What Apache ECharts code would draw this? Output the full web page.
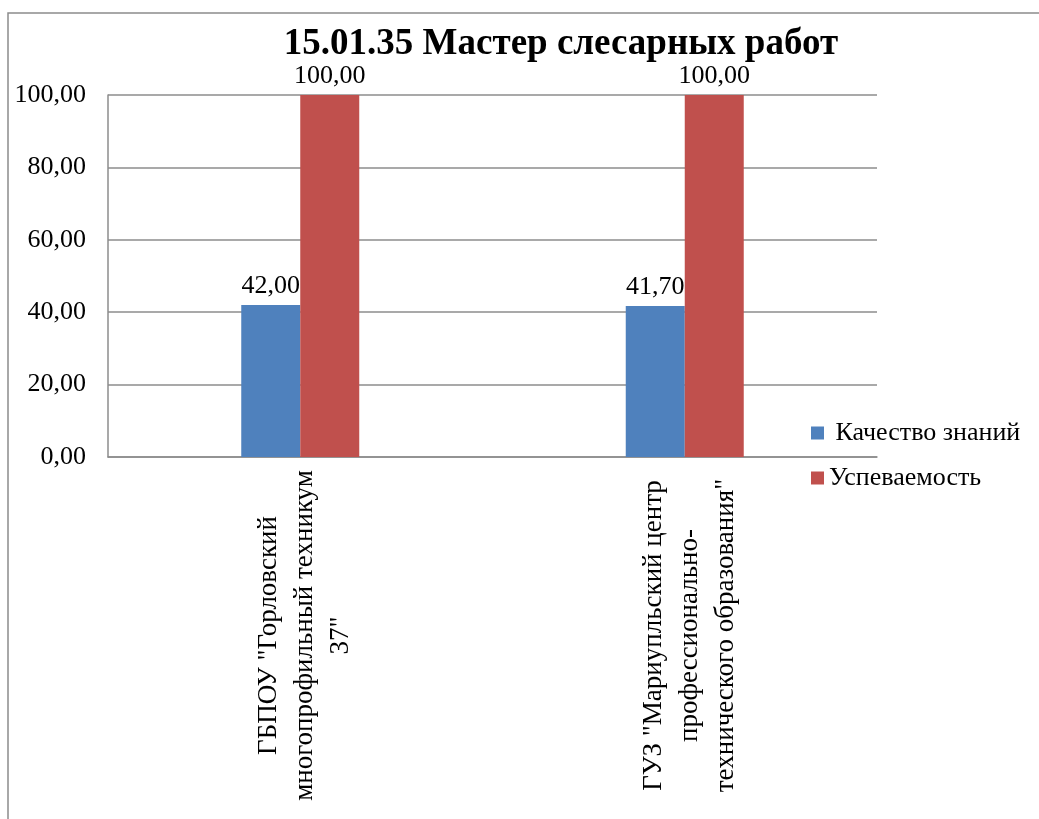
<!DOCTYPE html>
<html>
<head>
<meta charset="utf-8">
<script src="https://cdn.jsdelivr.net/npm/echarts@6/dist/echarts.min.js"></script>
<style>
  html, body { margin: 0; padding: 0; background: #fff; }
  #chart { width: 1039px; height: 819px; }
</style>
</head>
<body>
<div id="chart"></div>
<script>
  let titleText = '15.01.35 Мастер слесарных работ'
  let categories = [
    ['ГБПОУ "Горловский', 'многопрофильный техникум', '37"'],
    ['ГУЗ "Мариупльский центр', 'профессионально-', 'технического образования"']
  ]
  let seriesNames = ['Качество знаний', 'Успеваемость']
  let quality = [42.00, 41.70]
  let progress = [100.00, 100.00]
  let myColor = ['#4F81BD', '#C0504D']

  let fmt = function (v) {
    return Number(v).toFixed(2).replace('.', ',')
  }
  let serif = '"Liberation Serif", "Times New Roman", serif'

  let chart = echarts.init(document.getElementById('chart'))
  chart.setOption({
    backgroundColor: '#fff',
    textStyle: { fontFamily: serif },
    animation: false,
    graphic: [{
      type: 'polyline',
      shape: { points: [[8, 830], [8, 13], [1045, 13]] },
      style: { stroke: '#8c8c8c', lineWidth: 1.5, fill: null }
    }],
    title: {
      text: titleText,
      left: 556,
      textAlign: 'center',
      top: 21,
      textStyle: { fontFamily: serif, fontSize: 37, fontWeight: 'bold', color: '#000' }
    },
    legend: {
      orient: 'vertical',
      left: 806,
      top: 415,
      itemGap: 19,
      itemWidth: 13,
      itemHeight: 13,
      icon: 'rect',
      data: seriesNames,
      formatter: function (name) {
        return name === seriesNames[0] ? ' ' + name : name
      },
      textStyle: { fontFamily: serif, fontSize: 26, color: '#000' }
    },
    grid: { left: 108, right: 162, top: 95, bottom: 362 },
    xAxis: {
      type: 'category',
      data: categories.map(function (c) { return c.join('\n') }),
      axisLine: { lineStyle: { color: '#8c8c8c', width: 1.5 } },
      axisTick: { show: false },
      axisLabel: {
        rotate: 90,
        interval: 0,
        margin: 16,
        fontSize: 27,
        lineHeight: 36,
        color: '#000',
        padding: [10, 0, 0, 0],
        formatter: function (value) {
          return value.split('\n').map(function (s) { return '{a|' + s + '}' }).join('\n')
        },
        rich: {
          a: { width: 325, align: 'center', fontSize: 27, lineHeight: 36, fontFamily: serif, color: '#000' }
        }
      }
    },
    yAxis: {
      type: 'value',
      min: 0,
      max: 100,
      interval: 20,
      axisLine: { show: true, lineStyle: { color: '#8c8c8c', width: 1.5 } },
      axisTick: { show: false },
      splitLine: { lineStyle: { color: '#8c8c8c', width: 1.5 } },
      axisLabel: {
        margin: 22,
        fontSize: 26,
        fontFamily: serif,
        color: '#000',
        formatter: fmt
      }
    },
    series: [{
      name: seriesNames[0],
      type: 'bar',
      data: quality,
      barWidth: 59,
      barGap: '0%',
      itemStyle: { color: myColor[0] },
      label: {
        show: true,
        position: 'top',
        distance: 6,
        fontSize: 26,
        fontFamily: serif,
        color: '#000',
        formatter: function (p) { return fmt(p.value) }
      }
    }, {
      name: seriesNames[1],
      type: 'bar',
      data: progress,
      barWidth: 59,
      barGap: '0%',
      itemStyle: { color: myColor[1] },
      label: {
        show: true,
        position: 'top',
        distance: 6,
        fontSize: 26,
        fontFamily: serif,
        color: '#000',
        formatter: function (p) { return fmt(p.value) }
      }
    }]
  })
</script>
</body>
</html>
